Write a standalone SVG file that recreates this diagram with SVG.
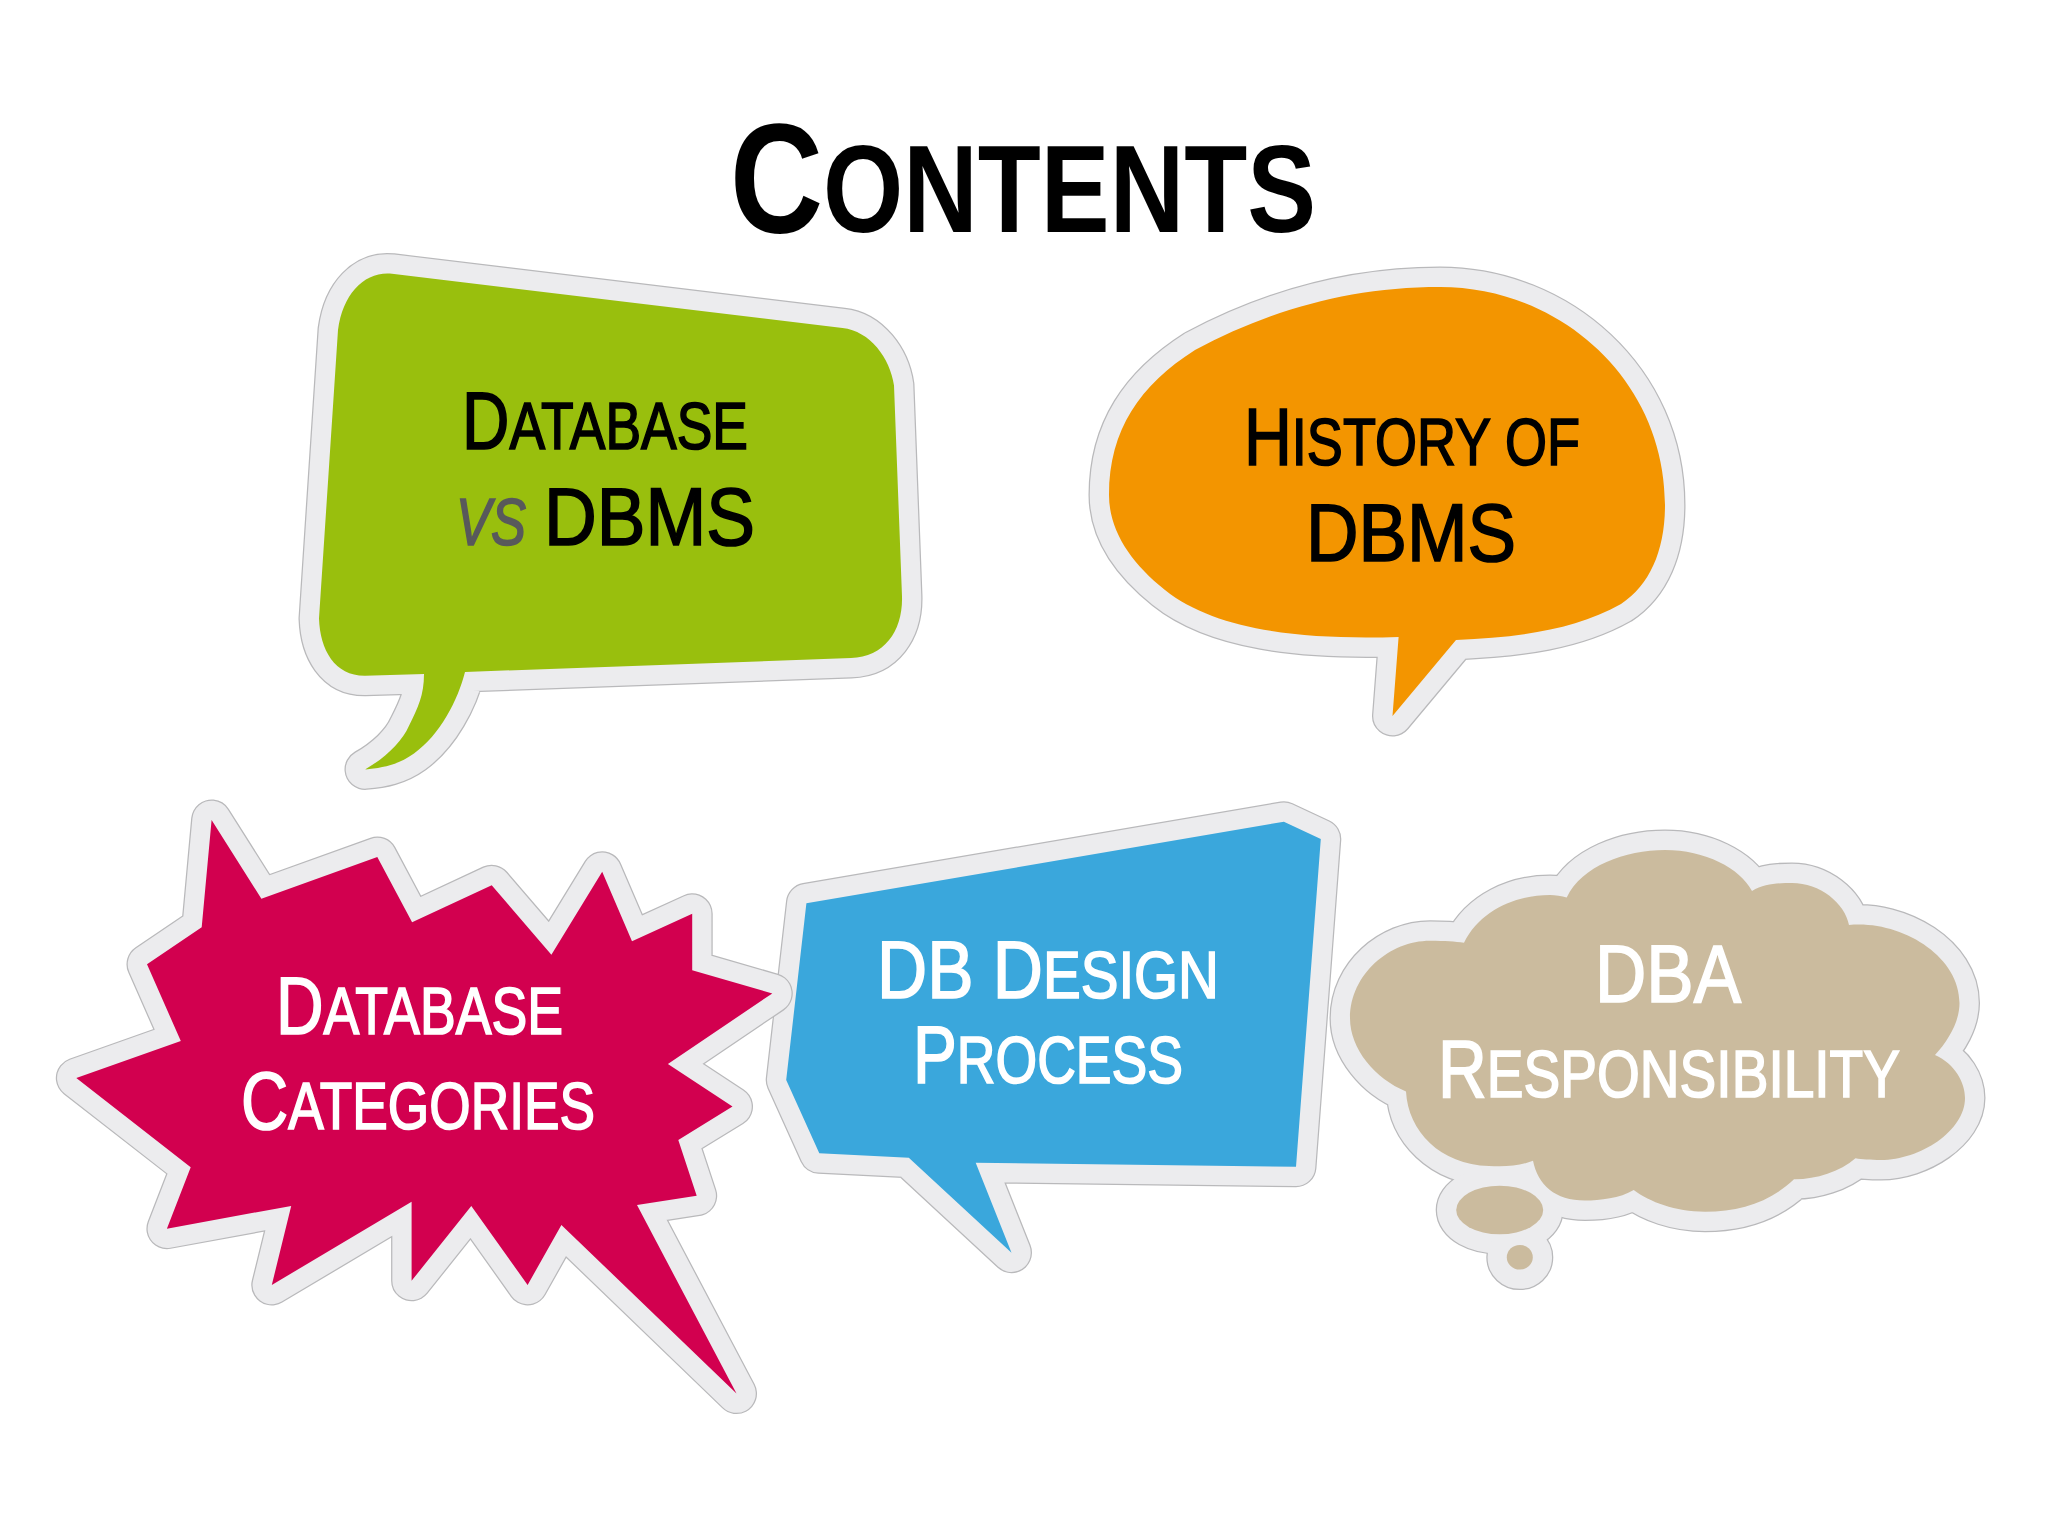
<svg xmlns="http://www.w3.org/2000/svg" xmlns:xlink="http://www.w3.org/1999/xlink" width="2048" height="1536" viewBox="0 0 2048 1536">
<style>
.edge{fill:#b9b9bb;stroke:#b9b9bb;stroke-width:41;stroke-linejoin:round}
.band{fill:#ececee;stroke:#ececee;stroke-width:38.5;stroke-linejoin:round}
text{font-family:"Liberation Sans",Arial,sans-serif}
.ttl{font-weight:700}
.lg{font-size:81px}
.sm{font-size:66px}
.k{fill:#000;stroke:#000;stroke-width:1.7}
.w{fill:#fff;stroke:#fff;stroke-width:1.7}
.g{fill:#58595b;stroke:#58595b;stroke-width:1.7}
</style>
<defs>
<path id="s-green" d="M392 273.7L842.5 328C870 331 890 358 894 385.4L902 596.3C903 630 885 657 851 658L465 672C458 700 440 735 414 753.5C398 765 382 768 365 769.4C385 758 402 742 409 725.7C418 708 424 695 424 674L365 675.8C335 676 320 650 319 618.5L338 330C343 293 365 271 392 273.7Z"/>
<path id="s-orange" d="M1440 287C1560 287 1665 380 1665 505C1665 550 1650 585 1621 604C1575 630 1520 637 1456 640L1392.5 716L1398.6 636.9C1300 640 1215 630 1165 590C1130 562 1109 530 1109 495C1109 430 1140 385 1195 350C1270 310 1350 287 1440 287Z"/>
<path id="s-blue" d="M806.4 903.3L1283.9 821.7L1320.8 839L1296 1166.7L975.7 1162.7L1011.5 1252.7L908.8 1157.7L819.3 1153.3L786.2 1080Z"/>
<path id="s-star" d="M211.6 820L261.4 898.7L377.3 857L412.1 922.3L491.7 885.2L551.4 954.7L602.2 871.8L632 941.2L692.2 913.8L692.2 970.2L772.3 993.4L667.9 1064L732.5 1106.6L678.3 1139.9L696.7 1195.8L637 1205L736.5 1393.6L561.4 1224.9L527.6 1285L471.3 1205.9L411.6 1280.8L411.6 1201.7L271.8 1285L291.2 1205.9L166.9 1228.7L190.7 1167.2L76.3 1078L180.8 1041L147 964.3L201.7 927.3Z"/>
<g id="s-cloud">
<path d="M1566.7 897.4C1582 866 1625 850 1665 850C1705 850 1740 868 1752 891C1765 883 1780 883 1792 883C1820 883 1845 903.3 1849 925C1900 920 1959.5 955 1959.5 1003C1959.5 1022 1948 1041 1935 1055C1955 1064 1965 1082.5 1965 1098C1965 1131 1920 1160 1881 1160C1870 1160 1862 1159.5 1855.5 1158.3C1840 1172 1815 1179.6 1794 1179.3C1770 1202 1740 1211.7 1705 1211.7C1675 1211.7 1650 1202 1633.7 1190C1620 1198.3 1600 1200.5 1585 1200.5C1555 1200.5 1538 1185 1533 1160.7C1520 1166 1505 1167 1489 1166C1440 1164.7 1408 1131 1406 1091.5C1375 1078.8 1350 1049 1350 1018.3C1350 974 1390 940.7 1430 940.7C1445 940.7 1455 941.4 1464 942.7C1480 910.8 1515 895 1550 895C1555 895 1562 895.9 1566.7 897.4Z"/>
<ellipse cx="1499.7" cy="1210" rx="43.5" ry="24.3"/>
<ellipse cx="1519.8" cy="1257.3" rx="13" ry="12.3"/>
</g>
</defs>
<rect width="2048" height="1536" fill="#fff"/>
<g id="title">
<text class="ttl" x="730" y="231.7" font-size="124" textLength="586" lengthAdjust="spacingAndGlyphs"><tspan font-size="155">C</tspan>ONTENTS</text>
</g>
<g id="node-green">
<use xlink:href="#s-green" href="#s-green" class="edge"/>
<use xlink:href="#s-green" href="#s-green" class="band"/>
<use xlink:href="#s-green" href="#s-green" fill="#99bf0d"/>
<text class="k sm" x="462" y="449" textLength="286" lengthAdjust="spacingAndGlyphs"><tspan class="lg">D</tspan>ATABASE</text>
<text class="g sm" x="456" y="545" font-style="italic" textLength="70" lengthAdjust="spacingAndGlyphs">VS</text>
<text class="k lg" x="544" y="545" textLength="211" lengthAdjust="spacingAndGlyphs">DBMS</text>
</g>
<g id="node-orange">
<use xlink:href="#s-orange" href="#s-orange" class="edge"/>
<use xlink:href="#s-orange" href="#s-orange" class="band"/>
<use xlink:href="#s-orange" href="#s-orange" fill="#f39500"/>
<text class="k sm" x="1244" y="465" textLength="336" lengthAdjust="spacingAndGlyphs"><tspan class="lg">H</tspan>ISTORY OF</text>
<text class="k lg" x="1306" y="561" textLength="210" lengthAdjust="spacingAndGlyphs">DBMS</text>
</g>
<g id="node-blue">
<use xlink:href="#s-blue" href="#s-blue" class="edge"/>
<use xlink:href="#s-blue" href="#s-blue" class="band"/>
<use xlink:href="#s-blue" href="#s-blue" fill="#3aa7dc"/>
<text class="w sm" x="877" y="997.7" textLength="342" lengthAdjust="spacingAndGlyphs"><tspan class="lg">DB D</tspan>ESIGN</text>
<text class="w sm" x="913" y="1082.7" textLength="270" lengthAdjust="spacingAndGlyphs"><tspan class="lg">P</tspan>ROCESS</text>
</g>
<g id="node-star">
<use xlink:href="#s-star" href="#s-star" class="edge"/>
<use xlink:href="#s-star" href="#s-star" class="band"/>
<use xlink:href="#s-star" href="#s-star" fill="#d2004f"/>
<text class="w sm" x="276" y="1033.8" textLength="287" lengthAdjust="spacingAndGlyphs"><tspan class="lg">D</tspan>ATABASE</text>
<text class="w sm" x="241" y="1129.3" textLength="354" lengthAdjust="spacingAndGlyphs"><tspan class="lg">C</tspan>ATEGORIES</text>
</g>
<g id="node-cloud">
<use xlink:href="#s-cloud" href="#s-cloud" class="edge"/>
<use xlink:href="#s-cloud" href="#s-cloud" class="band"/>
<use xlink:href="#s-cloud" href="#s-cloud" fill="#cbbb9e"/>
<text class="w lg" x="1595" y="1001.7" textLength="146" lengthAdjust="spacingAndGlyphs">DBA</text>
<text class="w sm" x="1438" y="1097.3" textLength="462" lengthAdjust="spacingAndGlyphs"><tspan class="lg">R</tspan>ESPONSIBILITY</text>
</g>
</svg>
